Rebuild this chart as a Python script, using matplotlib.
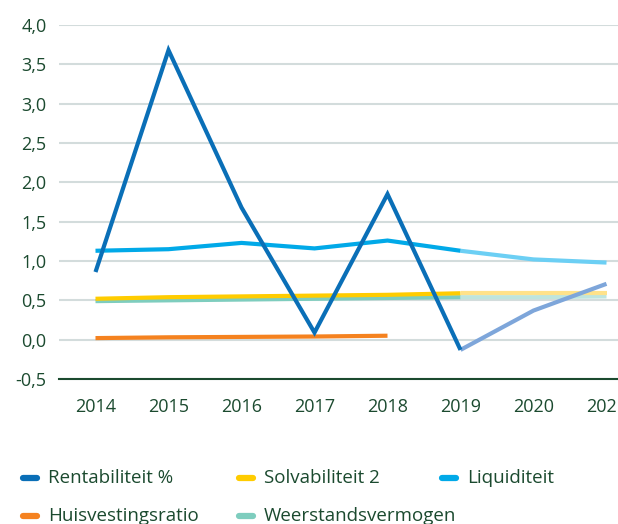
import numpy as np
import matplotlib.pyplot as plt
from matplotlib.lines import Line2D

years = ["2014", "2015", "2016", "2017", "2018", "2019", "2020", "2021"]
yticks = [-0.5, 0.0, 0.5, 1.0, 1.5, 2.0, 2.5, 3.0, 3.5, 4.0]

# Kengetallen per jaar (2019 t/m 2021 zijn begrotingswaarden)
rentabiliteit = [0.86, 3.68, 1.68, 0.09, 1.85, -0.13, 0.37, 0.71]
solvabiliteit = [0.52, 0.54, 0.55, 0.56, 0.57, 0.59, 0.59, 0.59]
liquiditeit = [1.13, 1.15, 1.23, 1.16, 1.26, 1.13, 1.02, 0.98]
huisvesting = [0.02, 0.03, 0.035, 0.04, 0.05, np.nan, np.nan, np.nan]
weerstand = [0.49, 0.50, 0.51, 0.52, 0.53, 0.54, 0.54, 0.55]

labels = ["Rentabiliteit %", "Solvabiliteit 2", "Liquiditeit",
          "Huisvestingsratio", "Weerstandsvermogen"]
series = [rentabiliteit, solvabiliteit, liquiditeit, huisvesting, weerstand]
colors = ["#0a6fb7", "#ffcc00", "#01a9e8", "#f5821f", "#7ecdbe"]
light = ["#7ea6da", "#ffe28a", "#6ccff4", "#f9b57a", "#bfe5de"]

text_col = "#1b4a2f"
plt.rcParams['font.family'] = ['Open Sans', 'DejaVu Sans']

fig = plt.figure(figsize=(6.18, 5.24), dpi=100)
ax = fig.add_axes([59 / 618, 145 / 524, 584 / 618, 354 / 524])

x = np.arange(len(years))
split = years.index("2019")

# weerstandsvermogen eerst, zodat solvabiliteit erboven ligt
order = [4, 3, 1, 2, 0]
for i in order:
    vals = np.array(series[i], dtype=float)
    ax.plot(x[:split + 1], vals[:split + 1], color=colors[i], lw=3.0,
            solid_joinstyle='miter', solid_capstyle='butt', zorder=3)
    ax.plot(x[split:], vals[split:], color=light[i], lw=3.0,
            solid_joinstyle='miter', solid_capstyle='butt', zorder=2)

ax.set_xlim(-0.5, len(years) - 0.5)
ax.set_ylim(-0.5, 4.0)
ax.set_yticks(yticks)
ax.set_yticklabels([f"{v:.1f}".replace(".", ",") for v in yticks])
ax.set_xticks(x)
ax.set_xticklabels(years)
ax.grid(axis='y', color="#d3dcdc", lw=1.5)
ax.set_axisbelow(True)
for s in ["top", "right", "left"]:
    ax.spines[s].set_visible(False)
ax.spines["bottom"].set_color(text_col)
ax.spines["bottom"].set_linewidth(1.5)
ax.tick_params(axis='both', length=0, colors=text_col, labelsize=13)
ax.tick_params(axis='x', pad=14)
ax.tick_params(axis='y', pad=9)

# legenda in twee rijen
pos = [(20, 478), (236, 478), (439, 478), (20, 516), (236, 516)]
for (px, py), lab, c in zip(pos, labels, colors):
    fy = 1 - py / 524
    fig.add_artist(Line2D([(px + 3) / 618, (px + 17) / 618], [fy, fy],
                          color=c, lw=4.5, solid_capstyle='round'))
    fig.text((px + 28) / 618, fy, lab, color=text_col, fontsize=13.5,
             va='center', ha='left')

fig.savefig("out.png", dpi=100)
